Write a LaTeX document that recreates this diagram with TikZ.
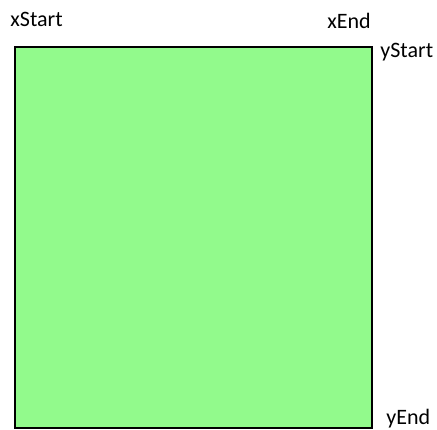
\documentclass[tikz,border=0pt]{standalone}
\usepackage{fontspec}
\setmainfont{Carlito}
\usepackage{xcolor}
\usepackage{tikz}
\usetikzlibrary{positioning,calc}

\definecolor{areagreen}{RGB}{146,250,140}

\begin{document}
\begin{tikzpicture}[
  x=0.5pt, y=0.5pt,
  area/.style={draw, rectangle, line width=1.3pt, fill=areagreen, inner sep=0pt,
    minimum width=178.5pt, minimum height=190.5pt},
  bound/.style={font=\fontsize{11}{13}\selectfont, inner sep=0pt, anchor=base west}
]
\clip (0,0) rectangle (437,429);
\node[area] (box) at (193.5,191.5) {};
\node[bound] (xs) at (10,402) {xStart};
\node[bound] (xe) at (327,400) {xEnd};
\node[bound] (ys) at (380,371) {yStart};
\node[bound] (ye) at (386,5) {yEnd};
\end{tikzpicture}
\end{document}
